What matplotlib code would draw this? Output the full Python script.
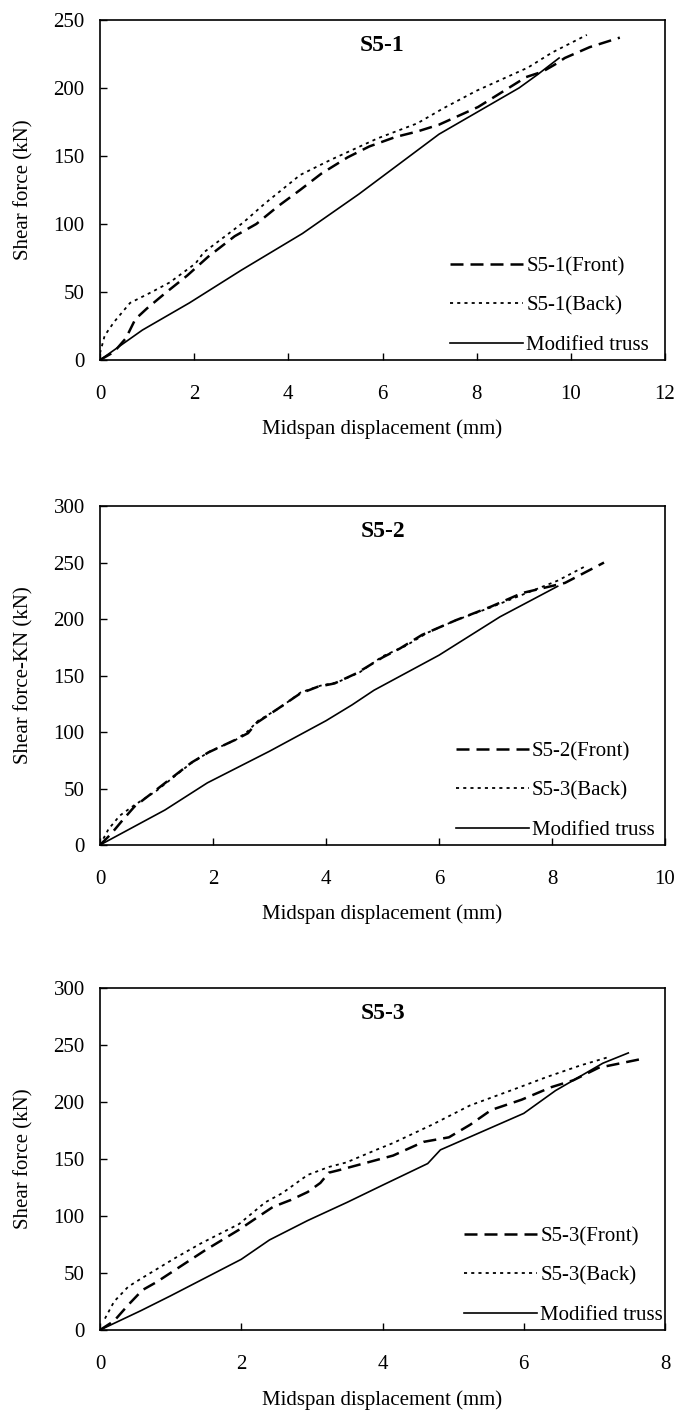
"""
Shear force vs midspan displacement for S5-1, S5-2, S5-3 (test vs modified truss)
"""
import matplotlib
matplotlib.use('Agg')
import matplotlib.pyplot as plt

plt.rcParams['font.family'] = ['Liberation Serif', 'DejaVu Serif']

# ---- S5-1 ----
s51_front_x = [0, 0.3, 0.55, 0.75, 1.0, 1.38, 1.85, 2.3, 2.86, 3.32, 3.78, 4.25, 4.7, 5.26,
               5.72, 6.28, 6.74, 7.2, 8.03, 8.68, 9.05, 9.4, 9.7, 9.87, 10.4, 11.04]
s51_front_y = [0, 6, 16, 30, 38, 49, 62, 76, 91, 100, 113, 125, 137, 149,
               157, 164, 168, 173, 186, 200, 208, 212, 218, 222, 230, 237]
s51_back_x = [0, 0.1, 0.3, 0.64, 1.1, 1.48, 2.03, 2.2, 3.04, 3.5, 4.25, 4.89, 5.9, 6.74,
              7.29, 8.0, 9.09, 9.6, 10.34]
s51_back_y = [5, 18, 28, 42, 50, 57, 71, 79, 101, 115, 136, 147, 163, 174,
              185, 198, 215, 226, 239]
s51_truss_x = [0, 0.9, 1.9, 3.0, 4.3, 5.5, 7.2, 8.0, 8.9, 9.3, 9.75]
s51_truss_y = [0, 22, 42, 66, 93, 122, 166, 182, 200, 210, 222]

# ---- S5-2 ----
s52_front_x = [0, 0.2, 0.4, 0.61, 1.0, 1.62, 1.92, 2.39, 2.62, 2.77, 3.16, 3.54, 3.85, 4.15,
               4.54, 5.0, 5.31, 5.7, 6.3, 6.92, 7.47, 8.23, 8.92]
s52_front_y = [0, 10, 22, 34, 49, 73, 82, 93, 99, 108, 121, 134, 140, 143,
               152, 166, 174, 186, 199, 211, 223, 232, 250]
s52_back_x = [0, 0.15, 0.35, 0.6, 1.0, 1.6, 1.95, 2.4, 2.6, 2.8, 3.2, 3.55, 3.9, 4.2,
              4.6, 5.0, 5.4, 5.8, 6.3, 6.9, 7.5, 8.1, 8.6]
s52_back_y = [0, 14, 26, 35, 48, 72, 83, 93, 100, 110, 122, 135, 141, 144,
              153, 167, 176, 188, 199, 210, 222, 234, 247]
s52_truss_x = [0, 1.15, 1.9, 3.0, 4.0, 4.46, 4.85, 6.0, 7.08, 8.1]
s52_truss_y = [0, 31, 55, 83, 110, 124, 137, 168, 202, 229]

# ---- S5-3 ----
s53_front_x = [0, 0.2, 0.4, 0.6, 0.8, 1.12, 1.49, 1.97, 2.28, 2.45, 2.7, 2.94, 3.12, 3.24,
               3.37, 3.67, 3.91, 4.15, 4.58, 4.94, 5.24, 5.54, 5.97, 6.39, 6.7, 7.06, 7.69]
s53_front_y = [0, 8, 22, 35, 42, 55, 70, 88, 101, 108, 114, 121, 129, 138,
               140, 145, 149, 153, 165, 169, 180, 193, 202, 213, 219, 230, 238]
s53_back_x = [0.07, 0.2, 0.4, 0.58, 1.06, 1.43, 1.97, 2.34, 2.58, 2.94, 3.24, 3.49, 3.91,
              4.15, 4.7, 5.24, 5.9, 6.33, 6.8, 7.18]
s53_back_y = [10, 25, 38, 45, 63, 76, 93, 112, 120, 136, 143, 147, 158,
              164, 180, 197, 212, 222, 232, 239]
s53_truss_x = [0, 0.58, 1.0, 2.0, 2.4, 2.94, 3.5, 4.0, 4.64, 4.82, 6.0, 6.45, 7.12, 7.48]
s53_truss_y = [0, 17, 30, 62, 79, 96, 112, 127, 146, 158, 190, 210, 234, 243]

panels = [
    dict(title='S5-1', ylabel='Shear force (kN)', xmax=12, ymax=250,
         labels=['S5-1(Front)', 'S5-1(Back)', 'Modified truss'],
         front=(s51_front_x, s51_front_y), back=(s51_back_x, s51_back_y),
         truss=(s51_truss_x, s51_truss_y), rect=[0.1477, 0.7454, 0.8346, 0.2405],
         leg_x=0.62),
    dict(title='S5-2', ylabel='Shear force-KN (kN)', xmax=10, ymax=300,
         labels=['S5-2(Front)', 'S5-3(Back)', 'Modified truss'],
         front=(s52_front_x, s52_front_y), back=(s52_back_x, s52_back_y),
         truss=(s52_truss_x, s52_truss_y), rect=[0.1477, 0.4024, 0.8346, 0.2397],
         leg_x=0.63),
    dict(title='S5-3', ylabel='Shear force (kN)', xmax=8, ymax=300,
         labels=['S5-3(Front)', 'S5-3(Back)', 'Modified truss'],
         front=(s53_front_x, s53_front_y), back=(s53_back_x, s53_back_y),
         truss=(s53_truss_x, s53_truss_y), rect=[0.1477, 0.0594, 0.8346, 0.2419],
         leg_x=0.645),
]

fig = plt.figure(figsize=(6.77, 14.14), dpi=100)

for p in panels:
    ax = fig.add_axes(p['rect'])
    ax.plot(*p['front'], color='black', lw=1.8, dashes=(5.2, 2.8), label=p['labels'][0])
    ax.plot(*p['back'], color='black', lw=1.3, dashes=(1.7, 2.3), label=p['labels'][1])
    ax.plot(*p['truss'], color='black', lw=1.2, label=p['labels'][2])

    ax.set_xlim(0, p['xmax'])
    ax.set_ylim(0, p['ymax'])
    ax.set_xticks(range(0, p['xmax'] + 1, 2))
    ax.set_yticks(range(0, p['ymax'] + 1, 50))
    ax.tick_params(direction='in', length=5, width=1, labelsize=15)
    ax.tick_params(axis='x', pad=18)
    ax.tick_params(axis='y', pad=11)
    for s in ax.spines.values():
        s.set_linewidth(1.2)

    ax.set_xlabel('Midspan displacement (mm)', fontsize=15)
    ax.xaxis.set_label_coords(0.5, -0.175)
    ax.set_ylabel(p['ylabel'], fontsize=15)
    ax.yaxis.set_label_coords(-0.118, 0.5)
    ax.text(0.5, 0.925, p['title'], transform=ax.transAxes, ha='center', va='center',
            fontsize=17, fontweight='bold')

    ax.legend(loc='lower left', bbox_to_anchor=(p['leg_x'], 0.015), frameon=False,
              fontsize=15, handlelength=3.5, handletextpad=0.15, labelspacing=0.95,
              borderpad=0, borderaxespad=0)

fig.savefig('out.png', dpi=100)
